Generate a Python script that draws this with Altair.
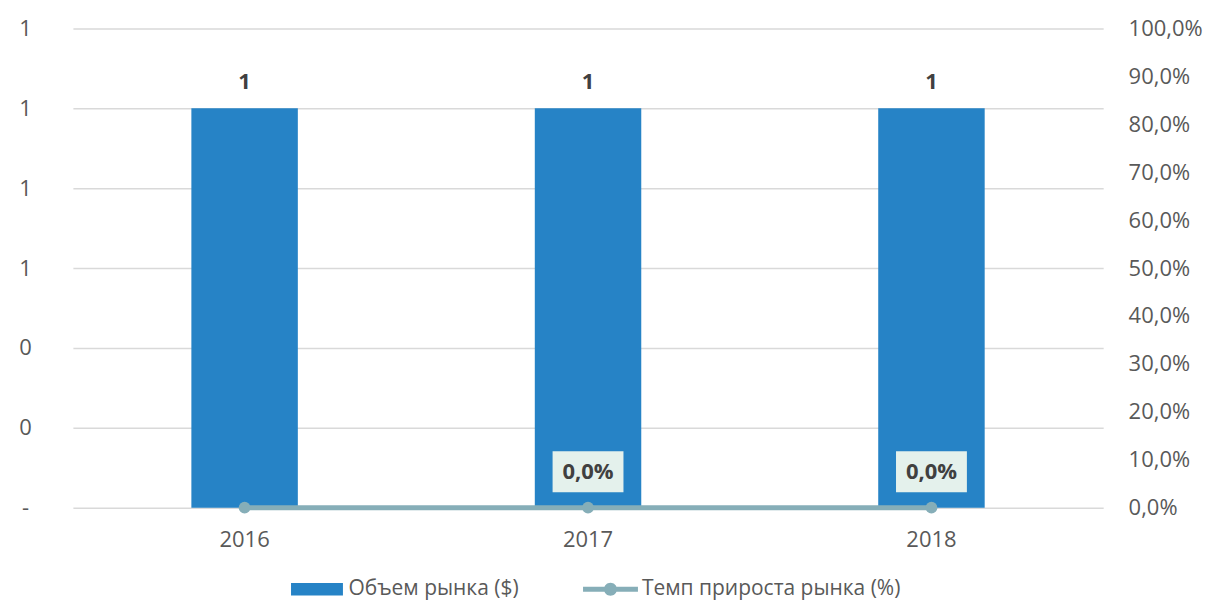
import altair as alt
import pandas as pd

years = ["2016", "2017", "2018"]
volume = [1, 1, 1]
growth = [0.0, 0.0, 0.0]
show_growth_label = [False, True, True]
series_names = ["Объем рынка ($)", "Темп прироста рынка (%)"]
left_ticks = [0, 0.2, 0.4, 0.6, 0.8, 1.0, 1.2]
right_ticks = [0, 0.1, 0.2, 0.3, 0.4, 0.5, 0.6, 0.7, 0.8, 0.9, 1.0]

BAR = "#2683C6"
LINE = "#86AEB8"
FONT = "Open Sans"
FS = 22

df = pd.DataFrame({"year": years, "volume": volume, "growth": growth, "show": show_growth_label})

xenc = alt.X("year:N", sort=years, title=None,
             scale=alt.Scale(paddingInner=0.69, paddingOuter=0.345),
             axis=alt.Axis(labelAngle=0, domain=False, ticks=False, tickSize=0, labelPadding=22,
                           labelFontSize=FS, labelColor="#595959", labelFont=FONT))

base = alt.Chart(df)

y_left = alt.Y("volume:Q", title=None,
               scale=alt.Scale(domain=[0, 1.2], nice=False),
               axis=alt.Axis(values=left_ticks, orient="left", domain=False, ticks=False, tickSize=0,
                             grid=True, gridColor="#D9D9D9", gridWidth=1.5,
                             labelExpr="datum.value == 0 ? '-' : format(datum.value, '.0f')",
                             labelAlign="center", labelBaseline="middle", labelPadding=48,
                             labelFontSize=FS, labelColor="#595959", labelFont=FONT))

bars = base.mark_bar(color=BAR).encode(x=xenc, y=y_left)
bar_text = base.mark_text(dy=-26, fontWeight="bold", fontSize=FS, font=FONT, color="#404040").encode(
    x=xenc, y=y_left, text=alt.Text("volume:Q", format=".0f"))

left = alt.layer(bars, bar_text)

y_right = alt.Y("growth:Q", title=None,
                scale=alt.Scale(domain=[0, 1], nice=False),
                axis=alt.Axis(values=right_ticks, orient="right", domain=False, ticks=False, tickSize=0,
                              grid=False,
                              labelExpr="replace(format(datum.value, '.1%'), '.', ',')",
                              labelAlign="left", labelBaseline="middle", labelPadding=25,
                              labelFontSize=FS, labelColor="#595959", labelFont=FONT))

line = base.mark_line(color=LINE, strokeWidth=5).encode(x=xenc, y=y_right)
points = base.mark_point(filled=True, color=LINE, opacity=1, size=140, shape="circle").encode(x=xenc, y=y_right)

lab = base.transform_filter("datum.show").transform_calculate(
    label="replace(format(datum.growth, '.1%'), '.', ',')")
label_box = lab.mark_point(filled=True, color="#E4F1EC", opacity=1, strokeWidth=0,
                           shape="M-1,-0.58H1V0.58H-1Z", size=5041, yOffset=-36).encode(x=xenc, y=y_right)
label_text = lab.mark_text(yOffset=-36, fontWeight="bold", fontSize=FS, font=FONT, color="#404040").encode(
    x=xenc, y=y_right, text="label:N")

rect_path = "M-2.6,-0.63H2.6V0.63H-2.6Z"
line_path = "M-2.75,-0.25H2.75V0.25H-2.75Z M0.65,0A0.65,0.65 0 1,1 -0.65,0A0.65,0.65 0 1,1 0.65,0Z"

leg = alt.Legend(orient="none", direction="horizontal", legendX=234, legendY=551,
                 symbolSize=400, symbolOpacity=1, symbolStrokeWidth=0,
                 labelFontSize=21, labelColor="#595959", labelFont=FONT, labelLimit=500,
                 labelOffset=21, columnPadding=64, title=None)

legend_layer = base.transform_calculate(series=f"'{series_names[1]}'").mark_point(
    filled=True, opacity=0).encode(
    x=xenc, y=y_right,
    color=alt.Color("series:N", title=None,
                    scale=alt.Scale(domain=series_names, range=[BAR, LINE]), legend=leg),
    shape=alt.Shape("series:N", title=None,
                    scale=alt.Scale(domain=series_names, range=[rect_path, line_path]), legend=leg),
)

right = alt.layer(line, points, label_box, label_text, legend_layer)

chart = alt.layer(left, right).resolve_scale(y="independent").properties(
    width=1032, height=480,
    background="white",
    autosize=alt.AutoSizeParams(type="none"),
    padding={"left": 65, "top": 20, "right": 100, "bottom": 94},
).configure_view(strokeWidth=0, stroke=None)

chart.save("out.html", embed_options={"renderer": "svg", "actions": False})
